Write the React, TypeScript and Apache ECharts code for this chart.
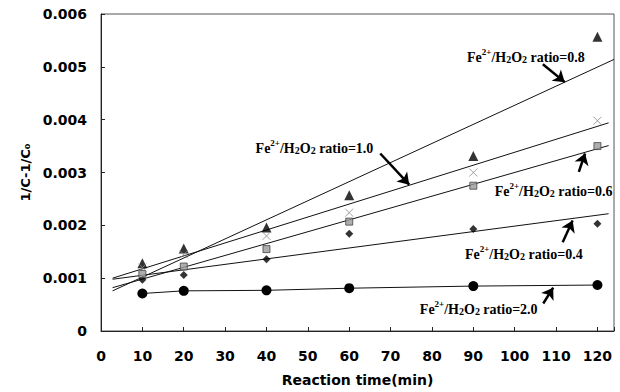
import React, { useEffect, useRef } from "react";
import * as echarts from "echarts";

const times = [10, 20, 40, 60, 90, 120];
const r08 = [0.00128, 0.00156, 0.00196, 0.00257, 0.00331, 0.00557];
const r10 = [0.0012, 0.00145, 0.0018, 0.00224, 0.003, 0.00398];
const r06 = [0.00108, 0.00122, 0.00155, 0.00207, 0.00275, 0.0035];
const r04 = [0.00097, 0.00106, 0.00136, 0.00184, 0.00193, 0.00203];
const r20 = [0.00071, 0.00076, 0.00077, 0.00081, 0.00085, 0.00087];

// fitted trend lines (start x, end x) and values
const fitX = [2.8, 122.7];
const fitX08 = [2.8, 124];
const fit08 = [0.00076, 0.00514];
const fit10 = [0.001, 0.00394];
const fit06 = [0.00082, 0.00351];
const fit04 = [0.00098, 0.00222];

const ratios = ["0.8", "1.0", "0.6", "0.4", "2.0"];
const labelPos = [
  [102.7, 0.0052],
  [51.6, 0.00348],
  [109.4, 0.00266],
  [102.2, 0.00147],
  [91.3, 0.00043],
];
const arrowFrom = [
  [106.8, 0.00505],
  [67.5, 0.00336],
  [115.5, 0.00301],
  [111.6, 0.00168],
  [106.9, 0.00052],
];
const arrowTo = [
  [112.1, 0.00471],
  [74.5, 0.00277],
  [117.0, 0.00336],
  [114.0, 0.00209],
  [109.3, 0.00082],
];

const xTicks = { min: 0, max: 124, interval: 10 };
const yTicks = { min: 0, max: 0.006, interval: 0.001 };

const pts = (ys: number[]) => times.map((t, i) => [t, ys[i]]);
const fit = (xs: number[], ys: number[]) => xs.map((x, i) => [x, ys[i]]);

const sans = "DejaVu Sans";
const serif = "Liberation Serif";

export default function App() {
  const ref = useRef<HTMLDivElement>(null);
  useEffect(() => {
    document.body.style.margin = "0";
    if (!ref.current) return;
    const chart = echarts.init(ref.current, null, { renderer: "svg" });
    const axisText = { color: "#000", fontFamily: sans, fontWeight: "bold", fontSize: 14 };
    const rich = {
      n: { fontFamily: serif, fontWeight: "bold", fontSize: 14, color: "#000", lineHeight: 17, verticalAlign: "bottom" },
      sup: { fontFamily: serif, fontWeight: "bold", fontSize: 9, color: "#000", lineHeight: 10, verticalAlign: "top" },
      sub: { fontFamily: serif, fontWeight: "bold", fontSize: 10, color: "#000", lineHeight: 15, verticalAlign: "bottom" },
    };
    const lineStyle = { color: "#111", width: 1 };
    const option: any = {
      animation: false,
      grid: { left: 101, right: 6, top: 14, bottom: 61, show: true, borderColor: "#555", borderWidth: 1 },
      xAxis: {
        type: "value",
        min: xTicks.min,
        max: xTicks.max,
        interval: xTicks.interval,
        axisLine: { lineStyle: { color: "#222", width: 1 } },
        axisTick: { inside: true, length: 4, lineStyle: { color: "#222" } },
        splitLine: { show: false },
        axisLabel: {
          ...axisText,
          margin: 18,
          formatter: (v: number) => (Math.abs(v % 10) < 1e-9 ? String(v) : ""),
        },
        name: "Reaction time(min)",
        nameLocation: "middle",
        nameGap: 42,
        nameTextStyle: axisText,
      },
      yAxis: {
        type: "value",
        min: yTicks.min,
        max: yTicks.max,
        interval: yTicks.interval,
        axisLine: { show: true, lineStyle: { color: "#222", width: 1 } },
        axisTick: { show: true, inside: true, length: 4, lineStyle: { color: "#222" } },
        splitLine: { show: false },
        axisLabel: {
          ...axisText,
          margin: 14,
          formatter: (v: number) => (v === 0 ? "0" : v.toFixed(3)),
        },
        name: "1/C-1/C\u2080",
        nameLocation: "middle",
        nameGap: 68,
        nameTextStyle: { ...axisText, fontSize: 13 },
      },
      series: [
        {
          name: "fit 0.8",
          type: "line",
          data: fit(fitX08, fit08),
          symbol: "none",
          lineStyle,
          markPoint: {
            symbol: "circle",
            symbolSize: 1,
            itemStyle: { color: "rgba(0,0,0,0)" },
            label: { show: true, position: "inside", rich },
            data: ratios.map((r, i) => ({
              coord: labelPos[i],
              label: {
                formatter: `{n|Fe}{sup|2+}{n|/H}{sub|2}{n|O}{sub|2}{n| ratio=${r}}`,
              },
            })),
          },
          markLine: {
            silent: true,
            symbol: ["none", "arrow"],
            symbolSize: 11,
            label: { show: false },
            lineStyle: { color: "#000", width: 2.5, type: "solid" },
            itemStyle: { color: "#000" },
            data: arrowFrom.map((f, i) => [{ coord: f }, { coord: arrowTo[i] }]),
          },
        },
        { name: "fit 1.0", type: "line", data: fit(fitX, fit10), symbol: "none", lineStyle },
        { name: "fit 0.6", type: "line", data: fit(fitX, fit06), symbol: "none", lineStyle },
        { name: "fit 0.4", type: "line", data: fit(fitX, fit04), symbol: "none", lineStyle },
        {
          name: "ratio 2.0",
          type: "line",
          data: pts(r20),
          symbol: "circle",
          symbolSize: 10,
          itemStyle: { color: "#000" },
          lineStyle,
          z: 3,
        },
        {
          name: "ratio 0.4",
          type: "scatter",
          data: pts(r04),
          symbol: "diamond",
          symbolSize: 8,
          itemStyle: { color: "#000" },
          z: 3,
        },
        {
          name: "ratio 0.6",
          type: "scatter",
          data: pts(r06),
          symbol: "rect",
          symbolSize: 7,
          itemStyle: { color: "#9a9a9a", borderColor: "#444", borderWidth: 1 },
          z: 3,
        },
        {
          name: "ratio 1.0",
          type: "scatter",
          data: pts(r10),
          symbol: "path://M0,0L10,10M10,0L0,10",
          symbolSize: 8,
          itemStyle: { color: "rgba(0,0,0,0)", borderColor: "#888", borderWidth: 1 },
          z: 4,
        },
        {
          name: "ratio 0.8",
          type: "scatter",
          data: pts(r08),
          symbol: "triangle",
          symbolSize: 10,
          itemStyle: { color: "#000" },
          z: 3,
        },
      ],
    };
    chart.setOption(option);
    return () => chart.dispose();
  }, []);
  return <div ref={ref} style={{ width: 620, height: 392 }} />;
}
